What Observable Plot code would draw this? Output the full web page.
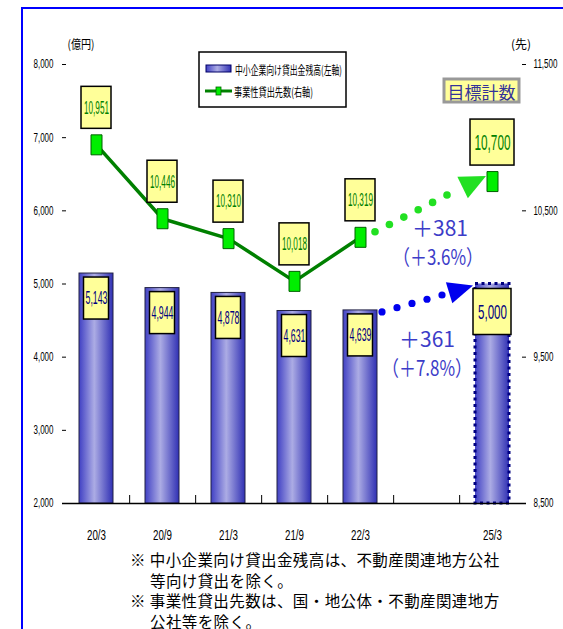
<!DOCTYPE html>
<html lang="ja"><head><meta charset="utf-8">
<script src="https://cdn.jsdelivr.net/npm/d3@7"></script>
<script src="https://cdn.jsdelivr.net/npm/@observablehq/plot@0.6"></script>
<style>
html,body{margin:0;padding:0;background:#fff;}
#wrap{position:relative;width:563px;height:629px;overflow:hidden;background:#fff;}
#chart{position:absolute;left:0;top:0;}
#overlay{position:absolute;left:0;top:0;pointer-events:none;}
#notes{position:absolute;left:130px;top:549px;font-family:"Noto Sans CJK JP",sans-serif;font-size:15.5px;letter-spacing:0.4px;line-height:20.6px;color:#000;white-space:nowrap;}
#notes .ind{padding-left:20px;}
</style></head><body>
<div id="wrap"><div id="chart"></div><svg id="overlay" width="563" height="629"></svg><div id="notes"></div></div>
<script>
// ---- data ----
const periods = ["20/3","20/9","21/3","21/9","22/3","","25/3"];
const loanBalance = [5143, 4944, 4878, 4631, 4639, null, 5000];        // 億円 (left axis)
const borrowerCount = [10951, 10446, 10310, 10018, 10319, null, 10700]; // 先 (right axis)
const leftTicks = [2000, 3000, 4000, 5000, 6000, 7000, 8000];
const rightTicks = [8500, 9500, 10500, 11500];
const leftDomain = [2000, 8000];
const rightDomain = [8500, 11500];
const seriesNames = ["中小企業向け貸出金残高(左軸)", "事業性貸出先数(右軸)"];
const axisUnits = ["(億円)", "(先)"];
const targetLabel = "目標計数";
const borrowerChange = ["＋381", "（＋3.6%）"];
const loanChange = ["＋361", "（＋7.8%）"];
const notes = [
  ["※ 中小企業向け貸出金残高は、不動産関連地方公社", "等向け貸出を除く。"],
  ["※ 事業性貸出先数は、国・地公体・不動産関連地方", "公社等を除く。"]
];

// ---- layout ----
const W = 563, H = 545, mL = 62, mR = 37, mT = 64, mB = 42;
const innerW = W - mL - mR;
const step = innerW / periods.length;
const pxPerUnit = (H - mT - mB) / (leftDomain[1] - leftDomain[0]);
const fmt = d3.format(",");
const ratio = (leftDomain[1] - leftDomain[0]) / (rightDomain[1] - rightDomain[0]);
const toLeft = v => leftDomain[0] + (v - rightDomain[0]) * ratio;
const toRight = v => rightDomain[0] + (v - leftDomain[0]) / ratio;

const rows = periods.map((p, i) => ({p, loan: loanBalance[i], cnt: borrowerCount[i]}))
  .filter(d => d.loan != null);
rows.forEach(d => d.cntY = toLeft(d.cnt));
const actual = rows.slice(0, 5);
const target = rows.slice(5);

const NUMF = "'Liberation Sans', Arial, sans-serif";
const markerSym = {draw(ctx) { ctx.moveTo(-5.5, -10); ctx.lineTo(5.5, -10); ctx.lineTo(5.5, 10); ctx.lineTo(-5.5, 10); ctx.closePath(); }};
const boxStyle = {fill: "#ffff99", stroke: "#000", strokeWidth: 1.5};

const chart = Plot.plot({
  width: W, height: H, marginLeft: mL, marginRight: mR, marginTop: mT, marginBottom: mB,
  style: {fontFamily: NUMF, fontSize: "12px", background: "transparent", overflow: "visible", color: "#000"},
  x: {domain: periods, paddingInner: 0.48, paddingOuter: 0.24, axis: null},
  y: {domain: leftDomain, axis: null},
  marks: [
    Plot.barY(actual, {x: "p", y1: leftDomain[0], y2: "loan", fill: "url(#barGrad)", stroke: "#222244", strokeWidth: 1}),
    Plot.barY(target, {x: "p", y1: leftDomain[0], y2: "loan", fill: "url(#barGrad)", stroke: "#000080", strokeWidth: 3, strokeDasharray: "3,3.5"}),
    Plot.ruleX(periods.slice(0, -1), {x: d => d, dx: step / 2, y1: leftDomain[0], y2: leftDomain[0] + 8 / pxPerUnit, stroke: "#000"}),
    Plot.ruleY([leftDomain[0]], {stroke: "#000", strokeWidth: 1.5}),
    Plot.ruleY(leftTicks, {y: d => d, insetRight: innerW - 4, stroke: "#000"}),
    Plot.ruleY(rightTicks, {y: toLeft, insetLeft: innerW - 4, stroke: "#000"}),
    Plot.axisY(leftTicks, {anchor: "left", tickSize: 0, tickPadding: 9, line: true, tickFormat: fmt, fontSize: 12, label: null}),
    Plot.axisY(rightTicks.map(toLeft), {anchor: "right", tickSize: 0, tickPadding: 7, line: true, tickFormat: d => fmt(Math.round(toRight(d))), fontSize: 12, label: null}),
    Plot.axisX(periods, {anchor: "bottom", tickSize: 0, tickPadding: 26, fontSize: 15, label: null}),
    Plot.line(actual, {x: "p", y: "cntY", stroke: "#008000", strokeWidth: 3.5}),
    Plot.dot(rows, {x: "p", y: "cntY", symbol: markerSym, fill: "#00ee00", stroke: "#006000", strokeWidth: 1}),
    Plot.barY(actual, {x: "p", y1: "loan", y2: "loan", insetLeft: 4.5, insetRight: 4.5, insetTop: 4, insetBottom: -46, ...boxStyle}),
    Plot.barY(target, {x: "p", y1: "loan", y2: "loan", insetLeft: -2, insetRight: -2, insetTop: 5, insetBottom: -51, ...boxStyle}),
    Plot.barY(actual, {x: "p", y1: "cntY", y2: "cntY", insetLeft: 2, insetRight: 2, insetTop: -58, insetBottom: 16, ...boxStyle}),
    Plot.barY(target, {x: "p", y1: "cntY", y2: "cntY", insetLeft: -5, insetRight: -5, insetTop: -62, insetBottom: 16, ...boxStyle}),
    Plot.text(actual, {x: "p", y: "cntY", dy: -37, text: d => fmt(d.cnt), fill: "#008000", fontSize: 18}),
    Plot.text(actual, {x: "p", y: "loan", dy: 25, text: d => fmt(d.loan), fill: "#000080", fontSize: 17.5}),
    Plot.text(target, {x: "p", y: "cntY", dy: -39, text: d => fmt(d.cnt), fill: "#008000", fontSize: 22}),
    Plot.text(target, {x: "p", y: "loan", dy: 28, text: d => fmt(d.loan), fill: "#000080", fontSize: 21})
  ]
});
document.getElementById("chart").appendChild(chart);

// gradient defs
const defs = d3.select(chart).insert("defs", ":first-child");
function grad(sel, id) {
  const g = sel.append("linearGradient").attr("id", id).attr("x1", 0).attr("x2", 1).attr("y1", 0).attr("y2", 0);
  [[0, "#4040c4"], [0.45, "#acacE4"], [1, "#3030b4"]].forEach(([o, c]) => g.append("stop").attr("offset", o).attr("stop-color", c));
}
grad(defs, "barGrad");

// condensed number faces
function condense(nodes, wfn) {
  nodes.forEach(t => { t.setAttribute("textLength", wfn(t.textContent)); t.setAttribute("lengthAdjust", "spacingAndGlyphs"); });
}
chart.querySelectorAll('g[aria-label="y-axis tick label"]').forEach(g => condense(g.querySelectorAll("text"), s => s.length * 4.0));
chart.querySelectorAll('g[aria-label="x-axis tick label"]').forEach(g => condense(g.querySelectorAll("text"), s => s.length * 4.75));
const tg = chart.querySelectorAll('g[aria-label="text"]');
[25, 22, 36, 29].forEach((w, i) => { if (tg[i]) condense(tg[i].querySelectorAll("text"), () => w); });

// ---- overlay ----
const ov = d3.select("#overlay");
grad(ov.append("defs"), "legGrad");
ov.append("path").attr("d", "M22,640V8H600").attr("fill", "none").attr("stroke", "#0000ff").attr("stroke-width", 2);

// legend
const lg = ov.append("g").attr("font-family", "'Noto Sans CJK JP', sans-serif").attr("font-size", 12);
lg.append("rect").attr("x", 199).attr("y", 52).attr("width", 147).attr("height", 55).attr("fill", "#fff").attr("stroke", "#000").attr("stroke-width", 1.5);
lg.append("rect").attr("x", 206).attr("y", 65).attr("width", 25).attr("height", 7).attr("fill", "url(#legGrad)").attr("stroke", "#000066");
lg.append("text").attr("x", 235).attr("y", 69).attr("dominant-baseline", "central").attr("textLength", 107).attr("lengthAdjust", "spacingAndGlyphs").text(seriesNames[0]);
lg.append("line").attr("x1", 205).attr("x2", 232).attr("y1", 91).attr("y2", 91).attr("stroke", "#008000").attr("stroke-width", 3);
lg.append("rect").attr("x", 216).attr("y", 87).attr("width", 5).attr("height", 8).attr("fill", "#00ee00").attr("stroke", "#006000").attr("stroke-width", 0.8);
lg.append("text").attr("x", 234).attr("y", 91).attr("dominant-baseline", "central").attr("textLength", 79).attr("lengthAdjust", "spacingAndGlyphs").text(seriesNames[1]);

// axis units
ov.append("text").attr("x", 81).attr("y", 43).attr("text-anchor", "middle").attr("dominant-baseline", "central")
  .attr("font-family", "'Noto Sans CJK JP', sans-serif").attr("font-size", 12).attr("textLength", 27).attr("lengthAdjust", "spacingAndGlyphs").text(axisUnits[0]);
ov.append("text").attr("x", 521).attr("y", 43).attr("text-anchor", "middle").attr("dominant-baseline", "central")
  .attr("font-family", "'Noto Sans CJK JP', sans-serif").attr("font-size", 12).attr("textLength", 20).attr("lengthAdjust", "spacingAndGlyphs").text(axisUnits[1]);

// target label
ov.append("rect").attr("x", 444).attr("y", 79).attr("width", 75).attr("height", 23).attr("fill", "#ffff99").attr("stroke", "#999").attr("stroke-width", 3);
ov.append("text").attr("x", 481.5).attr("y", 91).attr("text-anchor", "middle").attr("dominant-baseline", "central")
  .attr("font-family", "'Noto Sans CJK JP', sans-serif").attr("font-size", 17).attr("fill", "#333399").attr("textLength", 68).text(targetLabel);

// arrows (positioned from Plot's scales)
const xs = chart.scale("x"), ys = chart.scale("y");
const cx = p => xs.apply(p) + xs.bandwidth / 2;
const cy = v => ys.apply(v);
function dotted(p0, p1, tip, color, r, len, wid) {
  const dxl = p1[0] - p0[0], dyl = p1[1] - p0[1], L = Math.hypot(dxl, dyl);
  const n = Math.max(1, Math.round(L / 15.5));
  for (let k = 0; k <= n; k++) ov.append("circle").attr("cx", p0[0] + dxl * k / n).attr("cy", p0[1] + dyl * k / n).attr("r", r).attr("fill", color);
  const ux = tip[0] - p1[0], uy = tip[1] - p1[1], ul = Math.hypot(ux, uy);
  const u = [ux / ul, uy / ul], nrm = [-u[1], u[0]];
  const b = [tip[0] - u[0] * len, tip[1] - u[1] * len];
  ov.append("path").attr("d", `M${tip[0]},${tip[1]}L${b[0] + nrm[0] * wid / 2},${b[1] + nrm[1] * wid / 2}L${b[0] - nrm[0] * wid / 2},${b[1] - nrm[1] * wid / 2}Z`).attr("fill", color);
}
const gA = actual[4], gT = target[0];
dotted([cx(gA.p) + 15, cy(gA.cntY) - 5], [cx(gT.p) - 45, cy(gT.cntY) + 14], [cx(gT.p) - 6, cy(gT.cntY) - 5], "#22e022", 3.8, 26, 24);
dotted([cx(gA.p) + 22, cy(gA.loan) + 2], [cx(gT.p) - 50, cy(gT.loan) + 11.5], [cx(gT.p) - 19, cy(gT.loan) + 2], "#0000ee", 3.6, 25, 22);

// change annotations
const ann = ov.append("g").attr("font-family", "'Noto Sans CJK JP', sans-serif").attr("font-size", 21).attr("fill", "#3c3cc8").attr("text-anchor", "middle").attr("dominant-baseline", "central");
ann.append("text").attr("x", 440).attr("y", 227).text(borrowerChange[0]);
ann.append("text").attr("x", 438).attr("y", 256).attr("textLength", 90).attr("lengthAdjust", "spacingAndGlyphs").text(borrowerChange[1]);
ann.append("text").attr("x", 427).attr("y", 338).text(loanChange[0]);
ann.append("text").attr("x", 427).attr("y", 367).attr("textLength", 90).attr("lengthAdjust", "spacingAndGlyphs").text(loanChange[1]);

// notes
const nd = document.getElementById("notes");
notes.forEach(([a, b]) => {
  const d1 = document.createElement("div"); d1.textContent = a; nd.appendChild(d1);
  const d2 = document.createElement("div"); d2.className = "ind"; d2.textContent = b; nd.appendChild(d2);
});
</script>
</body></html>
